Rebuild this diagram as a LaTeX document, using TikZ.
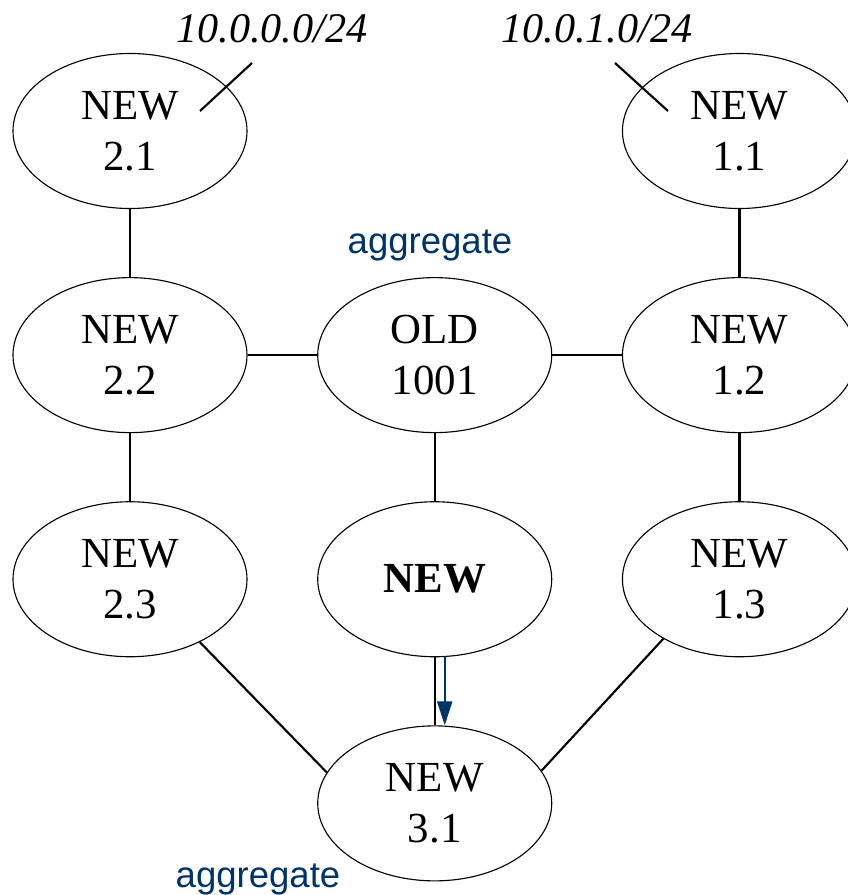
\documentclass[tikz,border=0pt]{standalone}
\usepackage{fontspec}
\setmainfont{Liberation Serif}
\newfontfamily\arialfont{Liberation Sans}
\usepackage{xcolor}
\usepackage{tikz}
\usetikzlibrary{shapes.geometric, arrows.meta, positioning}
\definecolor{aggblue}{RGB}{0,51,102}

\tikzset{
    net/.style={draw, ellipse, line width=0.8pt, minimum width=5.85cm, minimum height=3.875cm, align=center, font=\fontsize{30.5}{36}\selectfont},
    link/.style={line width=1.5pt},
    agg/.style={text=aggblue, font=\arialfont\fontsize{26}{30}\selectfont, anchor=base},
    pfx/.style={font=\itshape\fontsize{30}{34}\selectfont, anchor=base}
}

\begin{document}
\begin{tikzpicture}[node distance=1.7cm and 1.74cm, >=stealth]
        \useasboundingbox (0,0) rectangle (21.175,-22.375);
        \node[net] (n21) at (3.25,-3.275) {NEW\\2.1};
        \node[net, below=of n21] (n22) {NEW\\2.2};
        \node[net, right=of n22] (old) {OLD\\1001};
        \node[net, right=of old] (n12) {NEW\\1.2};
        \node[net, above=of n12] (n11) {NEW\\1.1};
        \node[net, below=of n22] (n23) {NEW\\2.3};
        \node[net, below=of old] (nnew) {\textbf{NEW}};
        \node[net, below=of n12] (n13) {NEW\\1.3};
        \node[net, below=of nnew] (n31) {NEW\\3.1};

        % prefixes and aggregation marks
        \node[pfx] (pfx0) at (6.8,-1.075) {10.0.0.0/24};
        \node[pfx] (pfx1) at (14.925,-1.075) {10.0.1.0/24};
        \coordinate (tk0a) at (5.0,-2.775);
        \coordinate (tk0b) at (6.3,-1.575);
        \coordinate (tk1a) at (15.375,-1.575);
        \coordinate (tk1b) at (16.7,-2.775);
        \node[agg] (agg1) at (10.75,-6.325) {aggregate};
        \node[agg] (agg2) at (6.45,-22.175) {aggregate};

        \draw[link] (tk0a) -- (tk0b);
        \draw[link] (tk1a) -- (tk1b);
        \draw[link] (n21) -- (n22);
        \draw[link] (n22) -- (old);
        \draw[link] (old) -- (n12);
        \draw[link] (n11) -- (n12);
        \draw[link] (n22) -- (n23);
        \draw[link] (n12) -- (n13);
        \draw[link] (old) -- (nnew);
        \draw[link] (nnew) -- (n31);
        \draw[link] (n23.-42) -- (n31.164);
        \draw[link] (n13.-142) -- (n31.17);
        \draw[link, aggblue, -{Triangle[width=0.375cm, length=0.6cm]}] ([xshift=2.5mm]nnew.south) -- ([xshift=2.5mm]n31.north);
    \end{tikzpicture}
\end{document}
